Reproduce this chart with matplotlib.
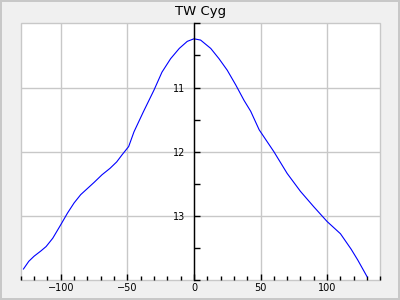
import matplotlib
matplotlib.use("Agg")
import matplotlib.pyplot as plt
from matplotlib.patches import Rectangle
from matplotlib.ticker import MultipleLocator

# light curve (days from max, magnitude)
days = [-128, -124, -120, -115, -111, -106, -100, -95, -90, -85, -75,
        -69, -63, -58, -54, -49, -45, -38, -30, -24, -17.5, -11, -5, 0,
        5, 12.6, 18.8, 25, 31.4, 37.6, 42.6, 49, 60, 70, 80, 90, 100,
        110, 113, 118, 123, 130]
mags = [13.83, 13.71, 13.63, 13.55, 13.48, 13.35, 13.14, 12.96, 12.80,
        12.67, 12.48, 12.36, 12.26, 12.16, 12.05, 11.92, 11.69, 11.38,
        11.04, 10.76, 10.55, 10.39, 10.28, 10.24, 10.26, 10.39, 10.55,
        10.73, 10.96, 11.20, 11.37, 11.66, 12.0, 12.34, 12.62, 12.86,
        13.09, 13.28, 13.37, 13.52, 13.69, 13.95]

title = "TW Cyg"
xlim = (-130, 140)
ylim = (14, 10)

grid_col = "#c8c8c8"

fig = plt.figure(figsize=(4, 3), dpi=100, facecolor="#f0f0f0")
fig.patch.set_edgecolor(grid_col)
fig.patch.set_linewidth(1.5)
ax = fig.add_axes([0.052, 0.067, 0.899, 0.855])
ax.set_facecolor("white")

ax.plot(days, mags, color="#0000ff", lw=0.8)

ax.set_xlim(*xlim)
ax.set_ylim(*ylim)

ax.xaxis.set_minor_locator(MultipleLocator(10))
ax.yaxis.set_minor_locator(MultipleLocator(0.5))
ax.set_xticks([-100, -50, 0, 50, 100])
ax.set_yticks([11, 12, 13])

ax.grid(True, which="major", color=grid_col, lw=1)
ax.set_axisbelow(True)

# y axis sits at x = 0
ax.spines["left"].set_position(("data", 0))
ax.spines["left"].set_color("black")
ax.spines["left"].set_linewidth(1)
ax.spines["left"].set_zorder(3)
for s in ("top", "right", "bottom"):
    ax.spines[s].set_visible(False)
ax.add_patch(Rectangle((0, 0), 1, 1, transform=ax.transAxes, fill=False,
                       edgecolor=grid_col, lw=1, zorder=0.5, clip_on=False))

ax.tick_params(axis="x", which="major", direction="in", length=4, width=1,
               labelsize=7, pad=2.5)
ax.tick_params(axis="x", which="minor", direction="in", length=3, width=1)
ax.tick_params(axis="y", which="major", direction="in", length=4.5, width=1,
               labelsize=7, pad=6.5)
ax.tick_params(axis="y", which="minor", direction="in", length=4, width=1)

ax.set_title(title, fontsize=9.5, pad=6)

fig.savefig("out.png", dpi=100, facecolor=fig.get_facecolor(),
            edgecolor=fig.patch.get_edgecolor())
